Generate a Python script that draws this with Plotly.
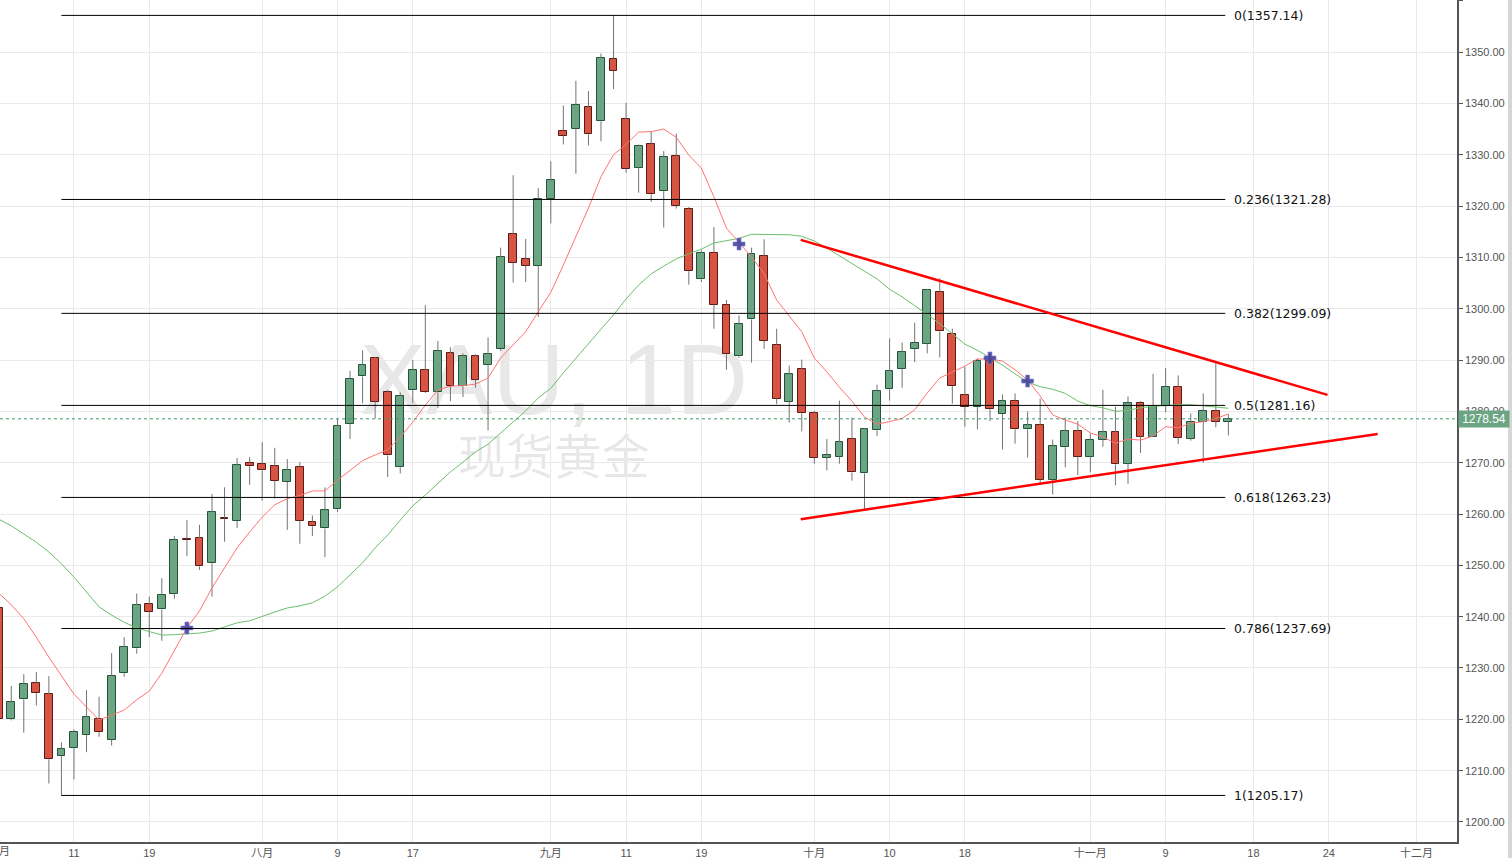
import plotly.graph_objects as go

# ---------------- data ----------------
opens = [1241.7, 1220.0, 1223.9, 1227.0, 1224.9, 1212.8, 1214.5, 1217.0, 1220.0, 1216.0,
         1229.0, 1233.8, 1242.4, 1241.4, 1244.5, 1255.2, 1255.3, 1250.4, 1259.2, 1258.7,
         1270.0, 1269.7, 1269.3, 1266.3, 1269.1, 1258.5, 1257.2, 1260.9, 1277.5, 1286.8,
         1290.3, 1283.7, 1269.1, 1284.1, 1288.0, 1283.7, 1291.3, 1284.9, 1290.7, 1289.0,
         1292.1, 1314.6, 1309.6, 1308.4, 1321.3, 1334.7, 1335.1, 1339.2, 1336.5, 1348.7,
         1336.9, 1327.5, 1332.0, 1322.9, 1329.7, 1319.5, 1305.7, 1310.9, 1300.8, 1290.7,
         1297.9, 1310.2, 1293.0, 1281.9, 1288.2, 1279.6, 1271.0, 1271.2, 1274.6, 1267.9,
         1276.3, 1284.3, 1288.2, 1292.2, 1293.2, 1303.2, 1295.0, 1283.1, 1280.9, 1289.9,
         1279.5, 1282.1, 1276.5, 1277.3, 1266.7, 1273.0, 1276.1, 1271.2, 1274.5, 1275.9,
         1269.8, 1281.7, 1275.1, 1281.1, 1284.8, 1274.7, 1278.0, 1280.0, 1278.0]
highs = [1243.0, 1226.5, 1228.8, 1229.2, 1228.4, 1215.5, 1218.0, 1225.7, 1224.4, 1232.9,
         1236.0, 1244.5, 1243.9, 1247.5, 1255.7, 1258.8, 1257.9, 1263.9, 1265.2, 1270.9,
         1271.1, 1274.0, 1272.9, 1270.7, 1270.1, 1259.7, 1265.2, 1278.6, 1287.9, 1291.9,
         1290.6, 1284.2, 1283.7, 1290.0, 1300.7, 1293.7, 1292.5, 1291.3, 1291.1, 1294.4,
         1311.9, 1326.0, 1313.6, 1323.5, 1328.7, 1339.6, 1344.4, 1342.4, 1349.7, 1357.14,
         1340.1, 1332.0, 1334.5, 1330.7, 1334.1, 1319.8, 1311.4, 1315.9, 1301.7, 1298.7,
         1311.9, 1313.5, 1296.1, 1288.9, 1290.1, 1280.1, 1274.6, 1282.1, 1278.8, 1276.7,
         1285.2, 1294.2, 1293.4, 1297.3, 1303.8, 1305.9, 1296.1, 1288.7, 1290.3, 1290.9,
         1283.3, 1283.5, 1280.0, 1282.5, 1274.5, 1278.8, 1278.1, 1275.7, 1284.2, 1280.9,
         1282.9, 1282.0, 1287.3, 1288.4, 1287.0, 1279.6, 1283.5, 1289.4, 1279.4]
lows = [1219.0, 1219.8, 1217.4, 1222.7, 1207.5, 1205.1, 1208.3, 1213.6, 1216.6, 1214.9,
        1228.3, 1232.8, 1236.0, 1235.3, 1243.5, 1251.8, 1249.1, 1243.9, 1254.6, 1257.3,
        1265.7, 1262.6, 1263.0, 1256.9, 1254.2, 1255.7, 1251.6, 1260.4, 1274.6, 1281.6,
        1278.6, 1267.2, 1267.9, 1281.6, 1283.6, 1280.7, 1282.0, 1282.8, 1284.6, 1276.3,
        1291.8, 1305.1, 1305.2, 1298.4, 1316.6, 1332.0, 1326.3, 1331.8, 1332.6, 1342.8,
        1326.5, 1322.6, 1320.8, 1315.8, 1319.5, 1304.7, 1305.2, 1296.1, 1288.1, 1290.4,
        1289.5, 1292.2, 1281.4, 1277.8, 1276.1, 1269.8, 1268.5, 1269.8, 1266.5, 1260.8,
        1275.2, 1282.1, 1284.6, 1289.6, 1291.3, 1290.5, 1281.5, 1277.0, 1276.5, 1278.1,
        1272.6, 1273.7, 1271.0, 1265.7, 1263.8, 1269.1, 1267.6, 1268.1, 1273.1, 1265.6,
        1265.9, 1271.9, 1275.1, 1279.8, 1273.6, 1274.3, 1270.0, 1276.9, 1275.3]
closes = [1220.1, 1223.3, 1226.8, 1225.1, 1212.2, 1214.2, 1217.5, 1220.4, 1217.5, 1228.5,
          1234.0, 1242.2, 1241.0, 1244.3, 1254.9, 1255.0, 1249.8, 1260.3, 1259.0, 1269.5,
          1269.3, 1268.5, 1266.5, 1268.5, 1258.7, 1257.6, 1260.7, 1277.1, 1286.4, 1289.1,
          1281.9, 1271.4, 1283.0, 1288.0, 1283.8, 1291.7, 1284.9, 1290.7, 1286.2, 1291.1,
          1310.0, 1309.0, 1308.4, 1321.3, 1325.0, 1333.7, 1339.6, 1334.0, 1348.9, 1346.4,
          1327.3, 1331.7, 1322.3, 1329.5, 1320.0, 1307.3, 1310.9, 1300.8, 1291.1, 1297.1,
          1310.6, 1293.8, 1282.5, 1287.2, 1279.6, 1271.0, 1271.4, 1274.0, 1268.1, 1276.5,
          1283.9, 1287.8, 1291.5, 1293.4, 1303.6, 1295.6, 1284.9, 1280.9, 1289.9, 1280.4,
          1282.1, 1276.5, 1277.3, 1266.7, 1273.2, 1276.1, 1271.2, 1274.5, 1275.9, 1269.7,
          1281.7, 1275.1, 1281.1, 1284.8, 1274.9, 1278.0, 1280.0, 1278.0, 1278.54]

ma_fast = [1244.6, 1242.3, 1239.6, 1236.0, 1232.1, 1228.6, 1224.9, 1222.4, 1219.9, 1220.8,
           1221.8, 1223.8, 1225.5, 1229.0, 1233.5, 1237.8, 1241.1, 1245.6, 1249.5, 1253.4,
           1256.5, 1259.4, 1261.8, 1263.0, 1263.6, 1264.5, 1264.5, 1266.6, 1268.5, 1270.4,
           1271.5, 1272.5, 1275.0, 1277.9, 1281.2, 1284.2, 1284.9, 1285.0, 1285.3, 1286.5,
           1290.4, 1292.9, 1295.5, 1299.4, 1303.2, 1308.5, 1314.0, 1319.6, 1325.7, 1330.0,
           1332.0, 1334.4, 1334.5, 1335.0, 1333.4, 1329.9, 1327.4, 1321.8, 1315.7, 1312.8,
           1310.1, 1306.8, 1301.7, 1298.6, 1295.5, 1290.4, 1287.7, 1284.7, 1282.0, 1278.9,
           1277.5, 1278.0, 1278.6, 1280.3, 1283.6, 1286.5, 1287.7, 1288.8, 1290.2, 1290.2,
           1289.8, 1288.1, 1286.1, 1283.0, 1279.3, 1278.3, 1277.5, 1275.8, 1275.0, 1273.8,
           1274.6, 1274.4, 1275.2, 1277.0, 1276.8, 1277.7, 1278.0, 1278.6, 1279.5]
ma_slow = [1259.0, 1257.7, 1256.1, 1254.5, 1252.6, 1250.3, 1247.7, 1244.8, 1241.9, 1240.3,
           1238.9, 1237.8, 1237.1, 1236.4, 1236.5, 1236.6, 1236.8, 1237.2, 1238.0, 1238.8,
           1239.2, 1240.1, 1240.9, 1241.7, 1242.1, 1242.7, 1244.0, 1245.8, 1248.1, 1250.5,
           1253.4, 1255.9, 1258.8, 1261.6, 1263.7, 1266.0, 1268.2, 1270.1, 1272.1, 1273.6,
           1275.8, 1277.9, 1280.1, 1282.6, 1284.5, 1287.5, 1290.4, 1293.3, 1296.0, 1298.8,
           1301.9, 1304.6, 1306.8, 1308.3, 1309.7, 1310.7, 1311.6, 1312.8, 1313.2, 1313.7,
           1314.5, 1314.5, 1314.5, 1314.4, 1314.1, 1313.2, 1311.8, 1310.3, 1308.9, 1307.3,
           1305.8, 1303.8, 1302.3, 1300.6, 1298.8, 1297.1, 1295.1, 1293.1, 1291.9, 1290.4,
           1289.0, 1287.3, 1285.7, 1284.8, 1284.3, 1283.5, 1282.0, 1281.1, 1280.7, 1280.0,
           1280.2, 1280.7, 1281.0, 1281.1, 1281.3, 1281.3, 1281.1, 1280.8, 1280.6]

cross_idx = [15, 59, 79, 82]
cross_price = [1237.8, 1312.6, 1290.4, 1285.9]

tick_pos = [0, 6, 12, 21, 27, 33, 44, 50, 56, 65, 71, 77, 87, 93, 100, 106, 113]
tick_text = ["七月", "11", "19", "八月", "9", "17", "九月", "11", "19", "十月", "10", "18",
             "十一月", "9", "18", "24", "十二月"]

fib_ratio_text = ["0", "0.236", "0.382", "0.5", "0.618", "0.786", "1"]
fib_prices = [1357.14, 1321.28, 1299.09, 1281.16, 1263.23, 1237.69, 1205.17]
fib_start_idx = 5
fib_end_idx = 97.75
fib_label_idx = 98.25

trend_upper_x = [63.92, 105.9]
trend_upper_y = [1313.4, 1283.2]
trend_lower_x = [63.92, 109.9]
trend_lower_y = [1259.0, 1275.6]

last_price = 1278.54
watermark_main = "XAU, 1D"
watermark_sub = "现货黄金"

# ---------------- styling ----------------
X_RANGE = [0.104, 116.22]
Y_RANGE = [1196.1, 1360.14]
UP_FILL, UP_LINE = "#6ba583", "#225437"
DN_FILL, DN_LINE = "#d75442", "#5b1a13"
WICK = "#737375"
GRID = "#e9e9e9"
AXIS = "#555555"

n = len(opens)
xs = list(range(n))

# wicks split into upper and lower parts so they never cross bodies
wx, wy = [], []
for i in xs:
    top = max(opens[i], closes[i])
    bot = min(opens[i], closes[i])
    wx += [i, i, None, i, i, None]
    wy += [highs[i], top, None, bot, lows[i], None]

base = [min(o, c) for o, c in zip(opens, closes)]
height = [max(abs(c - o), 0.2) for o, c in zip(opens, closes)]
fill = [UP_FILL if c >= o else DN_FILL for o, c in zip(opens, closes)]
edge = [UP_LINE if c >= o else DN_LINE for o, c in zip(opens, closes)]

fig = go.Figure()
fig.add_trace(go.Scatter(x=wx, y=wy, mode="lines", line=dict(color=WICK, width=1),
                         hoverinfo="skip", connectgaps=False))
fig.add_trace(go.Bar(x=xs, y=height, base=base, width=0.62,
                     marker=dict(color=fill, line=dict(color=edge, width=1)),
                     hoverinfo="skip"))
fig.add_trace(go.Scatter(x=xs, y=ma_slow, mode="lines",
                         line=dict(color="#6cbf6c", width=1), hoverinfo="skip"))
fig.add_trace(go.Scatter(x=xs, y=ma_fast, mode="lines",
                         line=dict(color="#ff7373", width=1), hoverinfo="skip"))
fig.add_trace(go.Scatter(x=cross_idx, y=cross_price, mode="markers",
                         marker=dict(symbol="cross", size=10, color="rgba(55,55,150,0.85)",
                                     line=dict(color="rgba(130,130,220,0.6)", width=1)),
                         hoverinfo="skip"))

shapes = []
annotations = []

# watermark (behind the candles)
shapes.append(dict(type="rect", xref="paper", yref="paper", x0=0.25, x1=0.51,
                   y0=0.50, y1=0.62, line=dict(width=0), fillcolor="rgba(0,0,0,0)",
                   layer="between",
                   label=dict(text=watermark_main, textposition="middle center",
                              font=dict(family="Arial, Liberation Sans", size=100,
                                        color="rgba(0,0,0,0.09)"))))
shapes.append(dict(type="rect", xref="paper", yref="paper", x0=0.30, x1=0.46,
                   y0=0.42, y1=0.485, line=dict(width=0), fillcolor="rgba(0,0,0,0)",
                   layer="between",
                   label=dict(text=watermark_sub, textposition="middle center",
                              font=dict(family="Noto Sans CJK SC", size=48,
                                        color="rgba(0,0,0,0.09)"))))

# fibonacci levels
for txt, p in zip(fib_ratio_text, fib_prices):
    shapes.append(dict(type="line", xref="x", yref="y", x0=fib_start_idx, x1=fib_end_idx,
                       y0=p, y1=p, line=dict(color="#000000", width=1), layer="above"))
    annotations.append(dict(x=fib_label_idx, y=p, xref="x", yref="y", xanchor="left",
                            yanchor="middle", showarrow=False, text=f"{txt}({p:.2f})",
                            font=dict(family="DejaVu Sans, Verdana", size=12.5, color="#111111")))

# trend lines
shapes.append(dict(type="line", xref="x", yref="y", x0=trend_upper_x[0], x1=trend_upper_x[1],
                   y0=trend_upper_y[0], y1=trend_upper_y[1],
                   line=dict(color="#ff0000", width=2.5), layer="above"))
shapes.append(dict(type="line", xref="x", yref="y", x0=trend_lower_x[0], x1=trend_lower_x[1],
                   y0=trend_lower_y[0], y1=trend_lower_y[1],
                   line=dict(color="#ff0000", width=2.5), layer="above"))

# last price line + label
shapes.append(dict(type="line", xref="paper", yref="y", x0=0, x1=1, y0=last_price, y1=last_price,
                   line=dict(color="#3f9a63", width=1, dash="dot"), layer="above"))
annotations.append(dict(x=1.0, y=last_price, xref="paper", yref="y", xanchor="left",
                        yanchor="middle", xshift=1, showarrow=False, text=f"{last_price:.2f}",
                        bgcolor="#6ba583", width=46, height=12, borderpad=2,
                        font=dict(family="Arial, Liberation Sans", size=12, color="#ffffff")))

# right grey border strip
plot_w = 1512 - 55
shapes.append(dict(type="rect", xref="paper", yref="paper", x0=1508 / plot_w, x1=1513 / plot_w,
                   y0=-0.03, y1=1.0, line=dict(width=0), fillcolor="#d6d6d6", layer="above"))

# tick labels that fall just left of the visible range (partially cut, like the reference)
for pos, txt in zip(tick_pos, tick_text):
    if pos < X_RANGE[0]:
        px = (pos - X_RANGE[0]) / (X_RANGE[1] - X_RANGE[0])
        annotations.append(dict(x=px, y=0, xref="paper", yref="paper", xanchor="center",
                                yanchor="top", yshift=-1, showarrow=False, text=txt,
                                font=dict(family="Arial, Noto Sans CJK SC", size=11,
                                          color=AXIS)))

fig.update_layout(
    width=1512, height=858,
    margin=dict(l=0, r=55, t=0, b=16, pad=0),
    paper_bgcolor="#ffffff", plot_bgcolor="#ffffff",
    showlegend=False, bargap=0,
    shapes=shapes, annotations=annotations,
    font=dict(family="Arial, Liberation Sans, Noto Sans CJK SC", size=11, color=AXIS),
    xaxis=dict(range=X_RANGE, tickmode="array", tickvals=tick_pos, ticktext=tick_text,
               showgrid=True, gridcolor=GRID, gridwidth=1, zeroline=False,
               showline=True, linecolor=AXIS, linewidth=1.5, ticks="",
               tickfont=dict(family="Arial, Noto Sans CJK SC", size=11, color=AXIS),
               fixedrange=True),
    yaxis=dict(range=Y_RANGE, side="right", tick0=1200, dtick=10, tickformat=".2f",
               showgrid=True, gridcolor=GRID, gridwidth=1, zeroline=False,
               showline=True, linecolor=AXIS, linewidth=1.5,
               ticks="outside", ticklen=4, tickcolor=AXIS,
               tickfont=dict(family="Arial, Liberation Sans", size=11, color=AXIS),
               fixedrange=True),
)

fig.write_html("out.html", config={"displayModeBar": False},
               post_script="document.body.style.margin='0';document.body.style.overflow='hidden';")
